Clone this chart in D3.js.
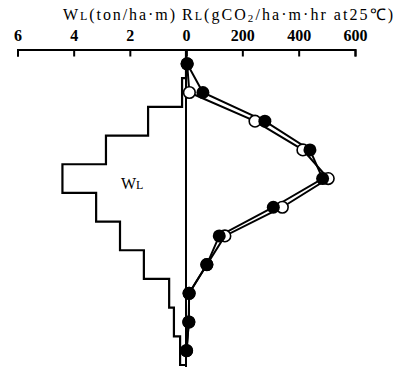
<!DOCTYPE html>
<html>
<head>
<meta charset="utf-8">
<script src="https://cdn.jsdelivr.net/npm/d3@7/dist/d3.min.js"></script>
<style>
  html, body { margin: 0; padding: 0; background: #fff; }
  svg { display: block; }
</style>
</head>
<body>
<svg id="chart" width="397" height="372"></svg>
<script>
// Leaf biomass per 1 m layer (ton/ha·m), top layer first
const layers = [0, 1, 2, 3, 4, 5, 6, 7, 8, 9, 10];
const leafBiomass = [0, 0.14, 1.35, 2.85, 4.4, 3.2, 2.35, 1.5, 0.6, 0.43, 0.21];

// Leaf respiration per layer (gCO2/ha·m·hr at 25°C), two measurement sets
const respFilled = [4, 60, 280, 440, 485, 310, 118, 74, 11, 10, 2];
const respOpen   = [4, 12, 245, 415, 505, 342, 138, 74, 11, 10, 2];

const biomassTicks = [2, 4, 6];
const respTicks = [0, 200, 400, 600];

const svg = d3.select("#chart");
const axisY = 49.5;
const x0 = 186;

const xW = d3.scaleLinear().domain([0, 6]).range([x0, 17.5]);
const xR = d3.scaleLinear().domain([0, 600]).range([x0, 355]);
const yD = d3.scaleLinear().domain([0, 11]).range([axisY, 365]);

const ink = "#000";

// Top axes: ticks hang below the line, labels sit above
const tickFont = "'Liberation Serif', serif";
function styleAxis(g) {
  g.selectAll("path.domain").attr("stroke", ink).attr("stroke-width", 2);
  g.selectAll(".tick line").attr("stroke", ink).attr("stroke-width", 2);
  g.selectAll(".tick text")
    .attr("fill", ink)
    .attr("font-family", tickFont)
    .attr("font-weight", "bold")
    .attr("font-size", 16);
}

svg.append("g")
  .attr("transform", `translate(0,${axisY})`)
  .call(d3.axisTop(xW).tickValues(biomassTicks).tickSizeInner(-7).tickSizeOuter(-7).tickPadding(9).tickFormat(d3.format("d")))
  .call(styleAxis);

svg.append("g")
  .attr("transform", `translate(0,${axisY})`)
  .call(d3.axisTop(xR).tickValues(respTicks).tickSizeInner(-7).tickSizeOuter(-7).tickPadding(9).tickFormat(d3.format("d")))
  .call(styleAxis);

// Vertical depth axis
svg.append("line")
  .attr("x1", x0).attr("x2", x0)
  .attr("y1", yD(0)).attr("y2", yD(11) + 2)
  .attr("stroke", ink).attr("stroke-width", 2);

// Biomass step profile
const stepPts = [[0, 0]];
layers.forEach((l, i) => {
  stepPts.push([leafBiomass[i], l]);
  stepPts.push([leafBiomass[i], l + 1]);
});
stepPts.push([0, 11]);
svg.append("path")
  .datum(stepPts)
  .attr("fill", "none")
  .attr("stroke", ink)
  .attr("stroke-width", 2.2)
  .attr("stroke-linejoin", "miter")
  .attr("d", d3.line().x(d => xW(d[0])).y(d => yD(d[1])));

// Respiration profiles
const respLine = d3.line().x(d => xR(d.v)).y(d => yD(d.l + 0.5));
const openData = layers.map((l, i) => ({ l, v: respOpen[i] }));
const filledData = layers.map((l, i) => ({ l, v: respFilled[i] }));

svg.append("path").datum(openData)
  .attr("fill", "none").attr("stroke", ink).attr("stroke-width", 2).attr("d", respLine);
svg.append("path").datum(filledData)
  .attr("fill", "none").attr("stroke", ink).attr("stroke-width", 2).attr("d", respLine);

svg.append("g").selectAll("circle").data(openData).join("circle")
  .attr("cx", d => xR(d.v)).attr("cy", d => yD(d.l + 0.5))
  .attr("r", 5.8)
  .attr("fill", "#fff").attr("stroke", ink).attr("stroke-width", 1.6);

svg.append("g").selectAll("circle").data(filledData).join("circle")
  .attr("cx", d => xR(d.v)).attr("cy", d => yD(d.l + 0.5))
  .attr("r", 6.5)
  .attr("fill", ink);

// Titles
const titleFont = "'Liberation Serif', serif";
const tW = svg.append("text")
  .attr("x", 63).attr("y", 20)
  .attr("font-family", titleFont).attr("font-size", 16).attr("fill", ink)
  .attr("textLength", 112).attr("lengthAdjust", "spacing");
tW.append("tspan").text("W");
tW.append("tspan").attr("font-size", 12).text("L");
tW.append("tspan").text("(ton/ha·m)");

const tR = svg.append("text")
  .attr("x", 182).attr("y", 20)
  .attr("font-family", titleFont).attr("font-size", 16).attr("fill", ink)
  .attr("textLength", 211).attr("lengthAdjust", "spacing");
tR.append("tspan").text("R");
tR.append("tspan").attr("font-size", 12).text("L");
tR.append("tspan").text("(gCO");
tR.append("tspan").attr("font-size", 11).attr("dy", 2).text("2");
tR.append("tspan").attr("dy", -2).text("/ha·m·hr at25℃)");

// In-plot label for the biomass profile
const lab = svg.append("text")
  .attr("x", 121).attr("y", 189)
  .attr("font-family", titleFont).attr("font-size", 16).attr("fill", ink);
lab.append("tspan").text("W");
lab.append("tspan").attr("font-size", 12).text("L");
</script>
</body>
</html>
